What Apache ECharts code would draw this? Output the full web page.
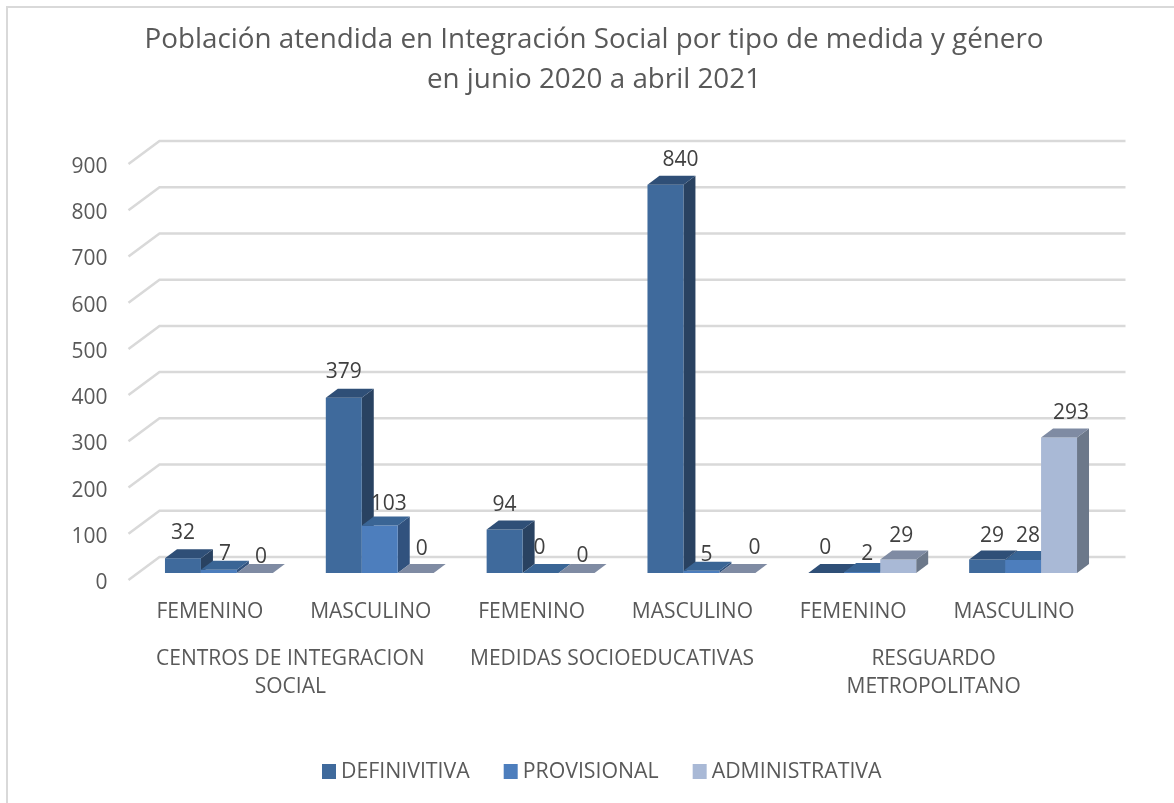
<!DOCTYPE html>
<html>
<head>
<meta charset="utf-8">
<style>html,body{margin:0;padding:0;background:#fff}#main{width:1174px;height:803px}</style>
<script src="https://cdn.jsdelivr.net/npm/echarts@6/dist/echarts.min.js"></script>
</head>
<body>
<div id="main"></div>
<script>
var genero = ['FEMENINO', 'MASCULINO', 'FEMENINO', 'MASCULINO', 'FEMENINO', 'MASCULINO'];
var grupos = ['CENTROS DE INTEGRACION\nSOCIAL', 'MEDIDAS SOCIOEDUCATIVAS', 'RESGUARDO\nMETROPOLITANO'];
var nombres = ['DEFINIVITIVA', 'PROVISIONAL', 'ADMINISTRATIVA'];
var definitiva = [32, 379, 94, 840, 0, 29];
var provisional = [7, 103, 0, 5, 2, 28];
var administrativa = [0, 0, 0, 0, 29, 293];
var marcas = [0, 100, 200, 300, 400, 500, 600, 700, 800, 900];

// corrimiento de cada etiqueta respecto a la barra, como las coloca Excel
var ajusteDef = [[0, -25], [0, -26], [0, -25], [15, -25], [-1, -25], [5, -24]];
var ajustePro = [[6, -16], [9, -21], [-1, -25], [5, -16], [5, -18], [5, -24]];
var ajusteAdm = [[6, -16], [6, -24], [6, -17], [17, -25], [3, -24], [12, -25]];

var valores = [definitiva, provisional, administrativa];
var ajustes = [ajusteDef, ajustePro, ajusteAdm];
var frente = ['#3f6a9c', '#4d7ebd', '#a9b9d6'];
var tapa = ['#2f4f77', '#3a6595', '#7f8ba3'];
var lado = ['#294261', '#31527e', '#6c788a'];

var fontName = '"Open Sans"';
var DX = 12, DY = 9, anchoBarra = 36 / 161;

function barra3d(serie) {
    return function (params, api) {
        var p = api.coord([api.value(0), api.value(1)]);
        var base = api.coord([api.value(0), 0]);
        var w = api.size([1, 0])[0] * anchoBarra;
        var x0 = p[0] + (serie - 1.5) * w;
        var x1 = x0 + w;
        var hijos = [];
        if (base[1] - p[1] > 0.5) {
            hijos.push({
                type: 'polygon',
                shape: {points: [[x1, p[1]], [x1 + DX, p[1] - DY], [x1 + DX, base[1] - DY], [x1, base[1]]]},
                style: {fill: lado[serie]}
            });
            hijos.push({
                type: 'rect',
                shape: {x: x0, y: p[1], width: w, height: base[1] - p[1]},
                style: {fill: frente[serie]}
            });
        }
        hijos.push({
            type: 'polygon',
            shape: {points: [[x0, p[1]], [x0 + DX, p[1] - DY], [x1 + DX, p[1] - DY], [x1, p[1]]]},
            style: {fill: tapa[serie]}
        });
        return {type: 'group', children: hijos};
    };
}

function paredes(params, api) {
    var c = params.coordSys;
    var y = api.coord([0, api.value(0)])[1];
    return {
        type: 'polyline',
        shape: {points: [[c.x - 10, y + 7], [c.x + 21, y - 16], [c.x + c.width + 22, y - 16]]},
        style: {stroke: '#d9d9d9', lineWidth: 2.5, fill: null}
    };
}

function etiqueta(params, api) {
    var serie = api.value(2);
    var p = api.coord([api.value(0), api.value(1)]);
    var w = api.size([1, 0])[0] * anchoBarra;
    var aj = ajustes[serie][api.value(0)];
    return {
        type: 'text',
        style: {
            x: p[0] + (serie - 1) * w + aj[0],
            y: p[1] + aj[1],
            text: String(api.value(1)),
            align: 'center',
            verticalAlign: 'middle',
            fill: '#404040',
            font: '21px ' + fontName
        }
    };
}

var series = [{
    type: 'custom',
    silent: true,
    clip: false,
    renderItem: paredes,
    encode: {y: 0},
    data: marcas.map(function (m) { return [m]; })
}];

nombres.forEach(function (n, s) {
    series.push({
        name: n,
        type: 'custom',
        clip: false,
        itemStyle: {color: frente[s]},
        renderItem: barra3d(s),
        encode: {x: 0, y: 1},
        data: valores[s].map(function (v, i) { return [i, v]; })
    });
});

var textos = [];
valores.forEach(function (arr, s) {
    arr.forEach(function (v, i) { textos.push([i, v, s]); });
});
series.push({
    type: 'custom',
    silent: true,
    clip: false,
    renderItem: etiqueta,
    encode: {x: 0, y: 1},
    data: textos
});

var option = {
    animation: false,
    backgroundColor: '#fff',
    textStyle: {fontFamily: fontName},
    title: {
        left: 589,
        top: 15,
        textAlign: 'center',
        text: 'Población atendida en Integración Social por tipo de medida y género\nen junio 2020 a abril 2021',
        textStyle: {color: '#595959', fontSize: 27.8, fontWeight: 'normal', lineHeight: 40, fontFamily: fontName}
    },
    legend: {
        left: 322,
        top: 761,
        padding: 0,
        itemWidth: 14,
        itemHeight: 15,
        itemGap: 34,
        icon: 'rect',
        data: nombres,
        textStyle: {color: '#595959', fontSize: 21.3, fontFamily: fontName}
    },
    grid: {left: 138.5, top: 157, width: 965, height: 416},
    xAxis: [{
        type: 'category',
        data: genero,
        axisLine: {show: false},
        axisTick: {show: false},
        axisLabel: {color: '#595959', fontSize: 21, margin: 29, padding: [0, 18, 0, 0], interval: 0}
    }, {
        type: 'category',
        position: 'bottom',
        offset: 72,
        data: grupos,
        axisLine: {show: false},
        axisTick: {show: false},
        axisLabel: {color: '#595959', fontSize: 21, margin: 0, lineHeight: 28, padding: [0, 18, 0, 0], interval: 0}
    }],
    yAxis: {
        type: 'value',
        min: 0,
        max: 900,
        interval: 100,
        axisLine: {show: false},
        axisTick: {show: false},
        splitLine: {show: false},
        axisLabel: {color: '#595959', fontSize: 21, margin: 31, verticalAlign: 'top', lineHeight: 20}
    },
    graphic: [{
        type: 'polyline',
        silent: true,
        z: -1,
        shape: {points: [[7, 803], [7, 7], [1174, 7]]},
        style: {fill: null, stroke: '#d9d9d9', lineWidth: 2}
    }],
    series: series
};

var myChart = echarts.init(document.getElementById('main'));
myChart.setOption(option);
</script>
</body>
</html>
